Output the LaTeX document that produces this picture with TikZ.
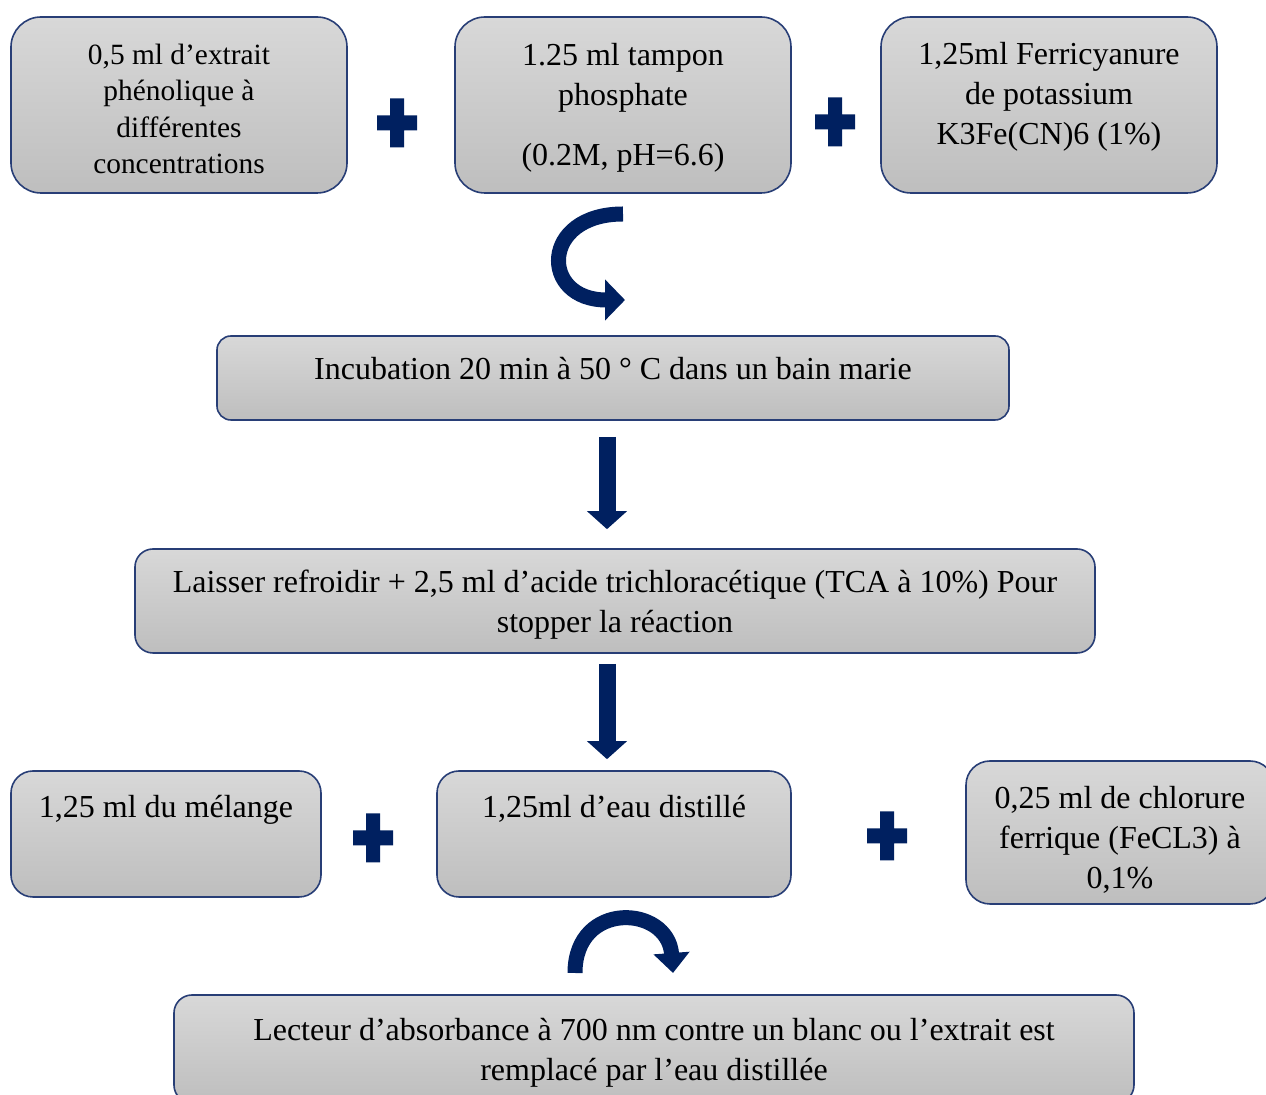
\documentclass[tikz,border=0pt]{standalone}
\usepackage{fontspec}
\setmainfont{Liberation Serif}
\usepackage{xcolor}
\usetikzlibrary{arrows.meta,positioning}

\definecolor{boxtop}{RGB}{216,216,216}
\definecolor{boxbottom}{RGB}{190,190,190}
\definecolor{boxline}{RGB}{40,62,118}
\definecolor{navy}{RGB}{0,32,96}

\begin{document}
\begin{tikzpicture}[x=0.5pt,y=-0.5pt,
 stage/.style={draw=boxline,line width=0.8pt,top color=boxtop,bottom color=boxbottom,
  rounded corners=#1,align=center,inner sep=3pt,font=\fontsize{16}{20}\selectfont},
 stage/.default=9pt,
 stem/.style={navy,line width=8.5pt,-{Triangle[width=19.5pt,length=9pt]}},
 turn/.style={navy,line width=7.5pt,-{Triangle[width=#1,length=10pt]}},
 pics/plussign/.style={code={
  \fill[navy] (-7,-24.5) -- (7,-24.5) -- (7,-7.5) -- (20,-7.5) -- (20,7.5) -- (7,7.5)
   -- (7,24.5) -- (-7,24.5) -- (-7,7.5) -- (-20,7.5) -- (-20,-7.5) -- (-7,-7.5) -- cycle;}}]
 \useasboundingbox (0,0) rectangle (1266,1095);
 \clip (0,0) rectangle (1266,1095);

 % first row
 \node[stage=15pt,minimum width=168pt,minimum height=88pt,text height=69pt,text depth=0pt,font=\fontsize{14.7}{18.3}\selectfont] (extrait) at (179,105)
  {0,5 ml d’extrait\\phénolique à\\différentes\\concentrations};
 \node[stage=15pt,minimum width=168pt,minimum height=88pt,text depth=0.4pt] (tampon) at (623,105)
  {1.25 ml tampon\\phosphate\\[10pt](0.2M, pH=6.6)};
 \node[stage=15pt,minimum width=168pt,minimum height=88pt,text depth=11.5pt] (ferri) at (1049,105)
  {1,25ml Ferricyanure\\de potassium\\K3Fe(CN)6 (1\%)};
 \pic at (397,123) {plussign};
 \pic at (835,122) {plussign};

 % steps
 \node[stage=7pt,minimum width=396pt,minimum height=42pt,text depth=9.5pt] (incub) at (613,378)
  {Incubation 20 min à 50 ° C dans un bain marie};
 \node[stage,minimum width=480pt,minimum height=52pt,text depth=-1.5pt] (refroid) at (615,601)
  {Laisser refroidir + 2,5 ml d’acide trichloracétique (TCA à 10\%) Pour\\stopper la réaction};

 % second row
 \node[stage=11pt,minimum width=155pt,minimum height=63pt,text depth=28pt] (melange) at (166,834)
  {1,25 ml du mélange};
 \node[stage=11pt,minimum width=177pt,minimum height=63pt,text depth=28pt] (eau) at (614,834)
  {1,25ml d’eau distillé};
 \node[stage=12pt,minimum width=154pt,minimum height=71.5pt,text height=55.7pt,text depth=0pt] (chlorure) at (1120,832.5)
  {0,25 ml de chlorure\\ferrique (FeCL3) à\\0,1\%};
 \pic at (373,838) {plussign};
 \pic at (887,836) {plussign};

 \node[stage,minimum width=480pt,minimum height=54pt,text depth=-0.5pt] (lecteur) at (654,1049)
  {Lecteur d’absorbance à 700 nm contre un blanc ou l’extrait est\\remplacé par l’eau distillée};

 % arrows
 \coordinate (bendA) at (623,214);
 \coordinate (bendB) at (625,300);
 \coordinate (archA) at (575,973);
 \coordinate (archB) at (673,973);
 \draw[turn=20pt] (bendA) .. controls +(-83,0) and +(-85,0) .. (bendB);
 \draw[stem,shorten <=8pt,shorten >=9.5pt] ([xshift=-3pt]incub.south) -- ([xshift=-3pt]incub.south |- refroid.north);
 \draw[stem,shorten <=5pt,shorten >=5.5pt] ([xshift=-4pt]refroid.south) -- ([xshift=-4pt]refroid.south |- eau.north);
 \draw[turn=17.5pt] (archA) .. controls +(0,-73) and +(-5,-68) .. (archB);
\end{tikzpicture}
\end{document}
